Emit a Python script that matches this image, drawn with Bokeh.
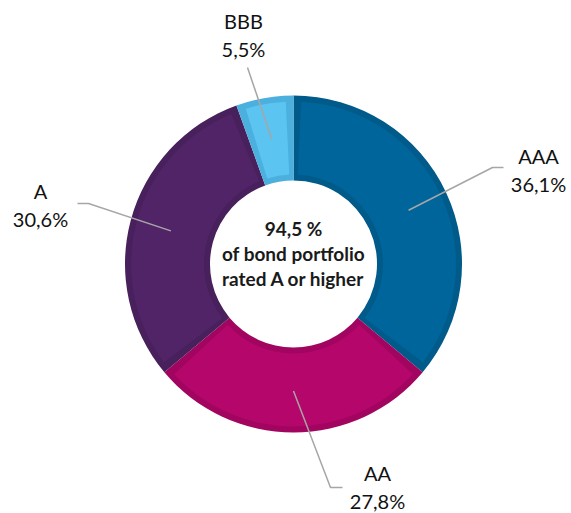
import math
from bokeh.plotting import figure
from bokeh.models import Range1d
from bokeh.core.properties import value
from bokeh.embed import file_html
from bokeh.resources import INLINE

# ---- data ----
ratings = ["AAA", "AA", "A", "BBB"]
shares = [36.1, 27.8, 30.6, 5.5]
share_labels = ["36,1%", "27,8%", "30,6%", "5,5%"]
center_lines = ["94,5 %", "of bond portfolio", "rated A or higher"]

# ---- styles ----
main_colors = ["#00659A", "#B4066B", "#512468", "#5BC4F0"]
edge_colors = ["#005B8A", "#A20560", "#47205C", "#4BB0DE"]

W, H = 571, 513
p = figure(width=W, height=H, output_backend="svg", toolbar_location=None,
           x_range=Range1d(0, W), y_range=Range1d(0, H), min_border=0)
p.axis.visible = False
p.grid.visible = False
p.outline_line_color = None
p.background_fill_color = "white"

def tx(ix):
    return ix
def ty(iy):
    return H - iy

cx, cy = tx(293), ty(263.5)
R_out, R_in = 168.5, 83.5
band = 6

total = sum(shares)
starts, ends, mids = [], [], []
a = math.pi / 2
for s in shares:
    sweep = s / total * 2 * math.pi
    starts.append(a - sweep)
    ends.append(a)
    mids.append(a - sweep / 2)
    a -= sweep

# outer (edge shade) wedges
p.annular_wedge(x=[cx] * 4, y=[cy] * 4, inner_radius=R_in, outer_radius=R_out,
                start_angle=starts, end_angle=ends, fill_color=edge_colors,
                line_color=None)
# inner bevel
rm = (R_in + R_out) / 2
inset = band / rm
p.annular_wedge(x=[cx] * 4, y=[cy] * 4, inner_radius=R_in + band,
                outer_radius=R_out - band,
                start_angle=[s + inset for s in starts],
                end_angle=[e - inset for e in ends],
                fill_color=main_colors, line_color=None)

# leader lines & labels
leader_r = 127
# elbow point, end point, label centre (page pixels)
layout = {
    "AAA": [(492, 167), (503, 167), (538, 155)],
    "AA": [(330, 487), (342, 487), (377, 472)],
    "A": [(88, 203), (77, 203), (40, 190)],
    "BBB": [(247, 67), (247, 67), (243, 20)],
}

for i, r in enumerate(ratings):
    sx = cx + leader_r * math.cos(mids[i])
    sy = cy + leader_r * math.sin(mids[i])
    el, en, tp = layout[r]
    p.line([sx, tx(el[0]), tx(en[0])], [sy, ty(el[1]), ty(en[1])],
           line_color="#A6A6A6", line_width=1.5)
    p.text(x=[tx(tp[0]), tx(tp[0])], y=[ty(tp[1]), ty(tp[1] + 28)],
           text=[r, share_labels[i]], text_align="center",
           text_baseline="middle", text_font=value("Lato"),
           text_font_size="20px", text_color="#111111")

p.text(x=[cx] * 3, y=[ty(228), ty(253), ty(278)], text=center_lines,
       text_align="center", text_baseline="middle", text_font=value("Lato"),
       text_font_style="bold", text_font_size="19px", text_color="#1A1A1A")

open("out.html", "w").write(file_html(p, INLINE))
